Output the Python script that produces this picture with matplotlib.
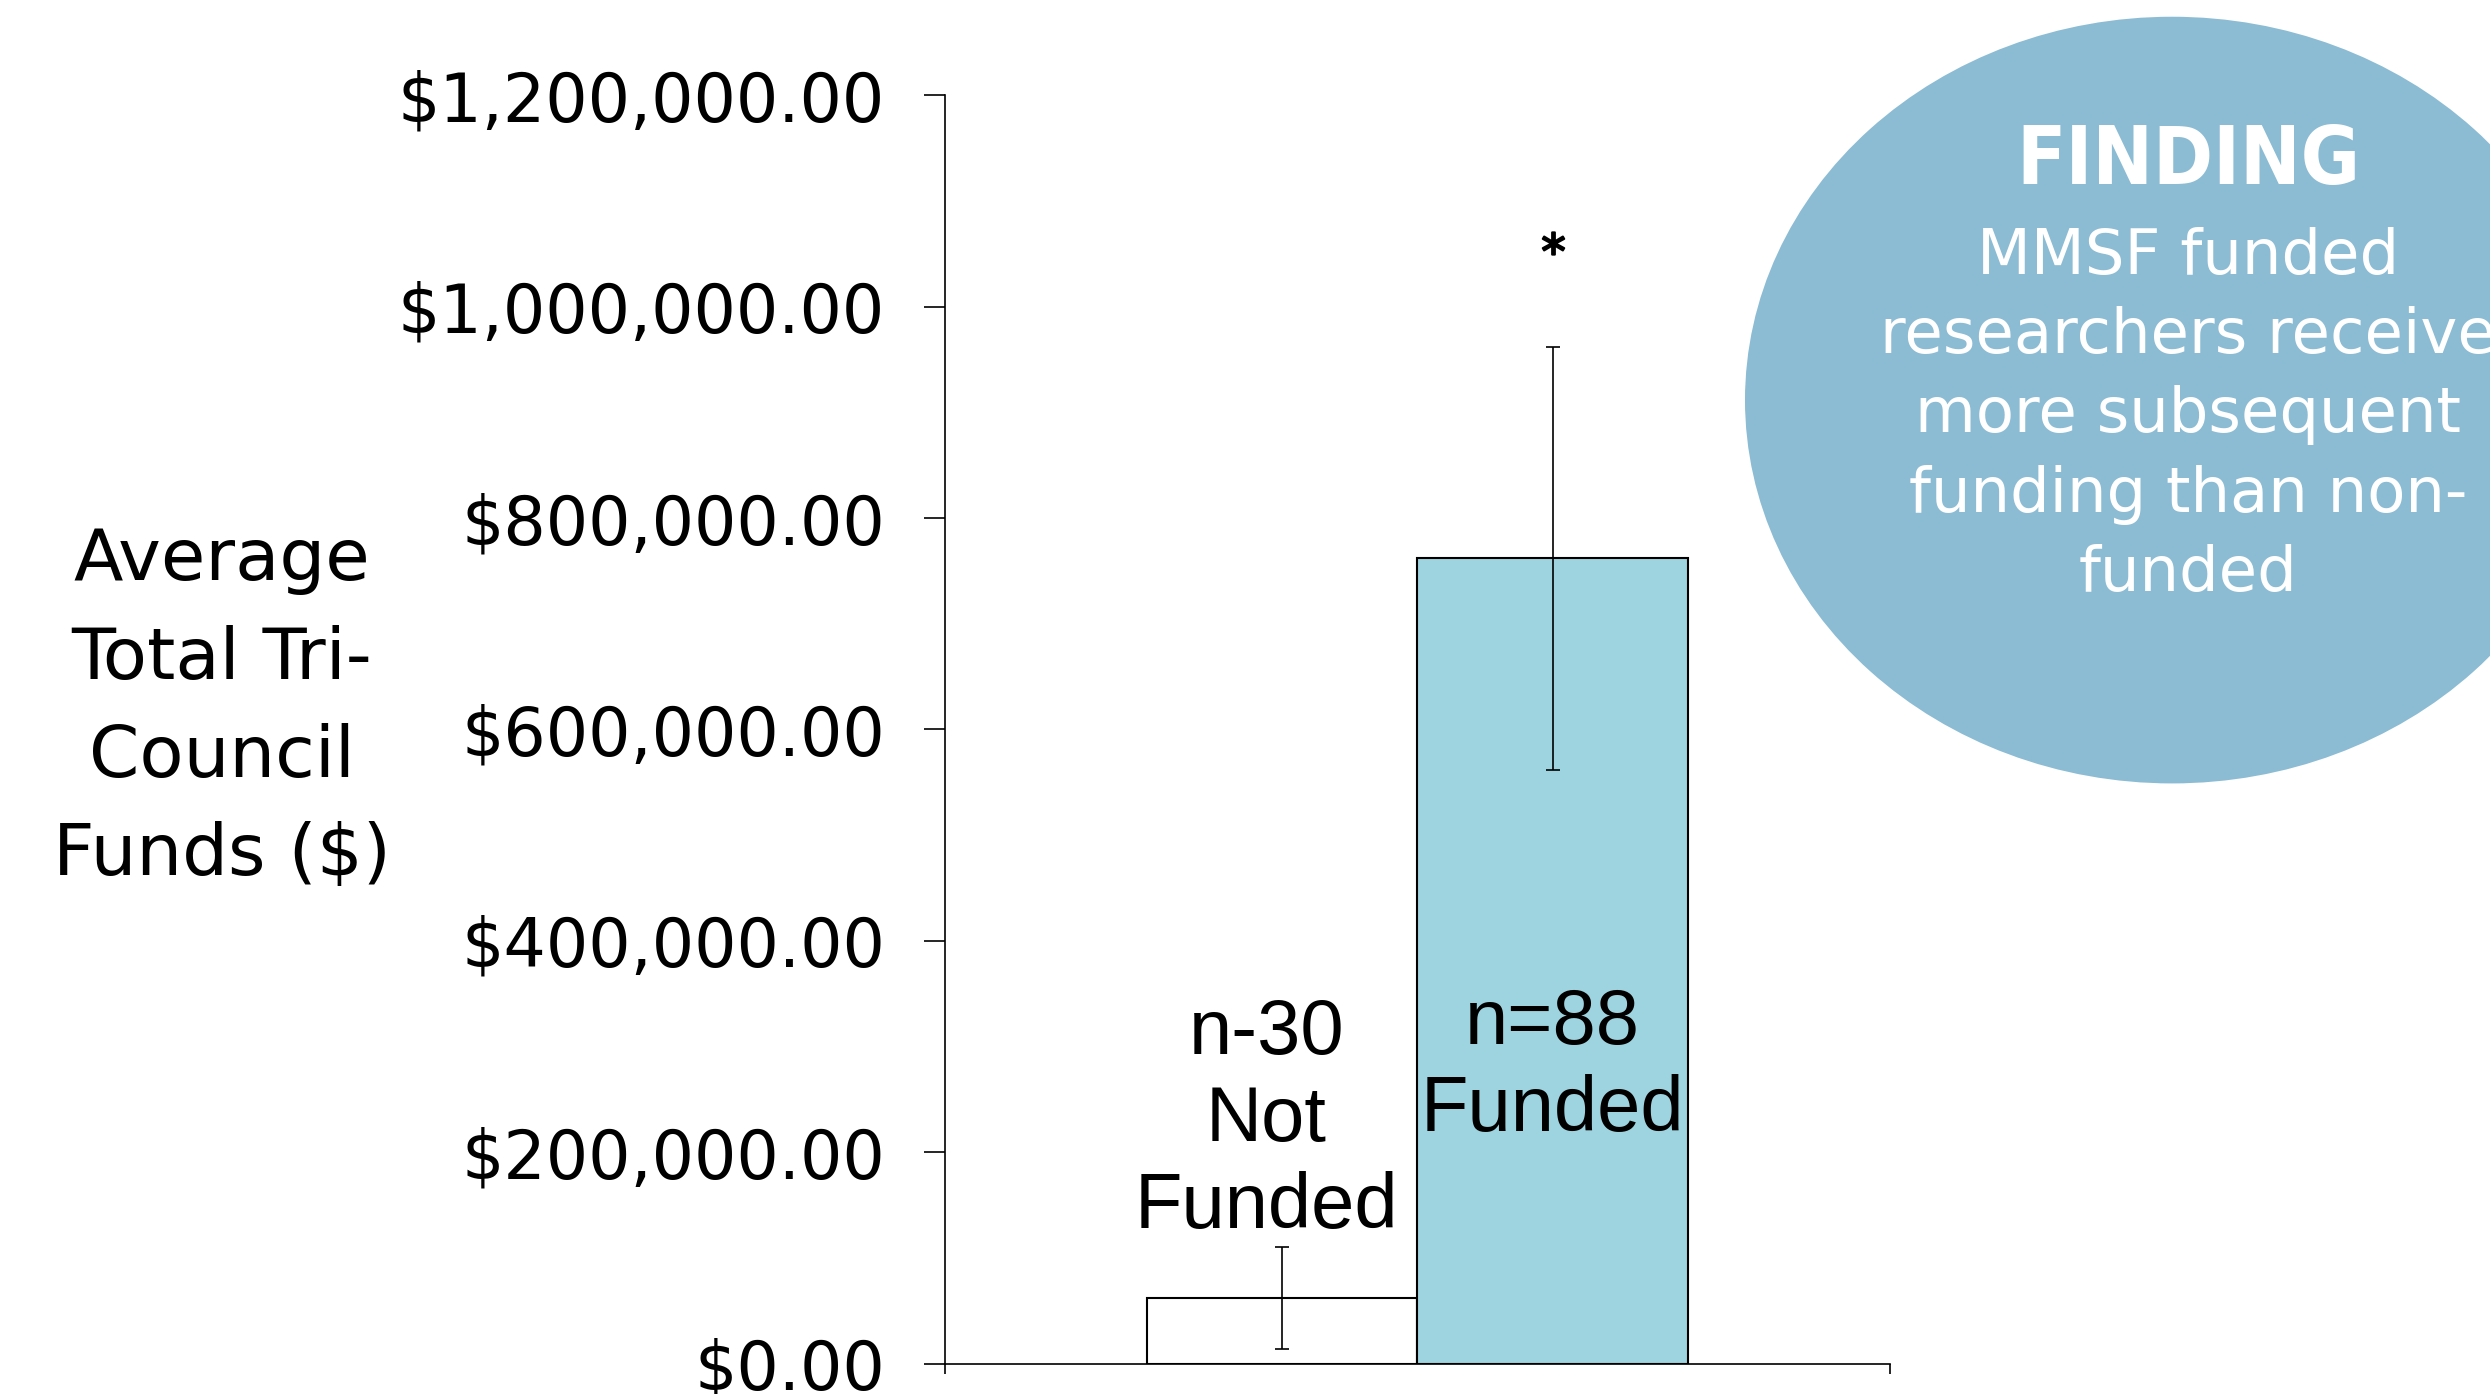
import matplotlib.pyplot as plt
import numpy as np
from matplotlib.patches import Ellipse
from matplotlib.ticker import FuncFormatter

# data
groups = ["Not Funded", "Funded"]
means = [62000, 762000]
errors = [48000, 200000]
bar_labels = ["n-30\nNot\nFunded", "n=88\nFunded"]
label_heights = [230000, 281000]
signif_height = 1060000
yticks = [0, 200000, 400000, 600000, 800000, 1000000, 1200000]

bar_colors = ["white", "#9DD4DF"]
circle_color = "#8BBCD3"

fig = plt.figure(figsize=(24.9, 13.94), dpi=100)
ax = fig.add_axes([0.3795, 0.0217, 0.3795, 0.910])

x = np.array([0.357, 0.643])
ax.bar(x, means, width=0.286, color=bar_colors, edgecolor="black", linewidth=1.5, zorder=2)
ax.errorbar(x, means, yerr=errors, fmt="none", ecolor="black", elinewidth=1.2,
            capsize=4.7, capthick=1.2, zorder=3)

# n labels inside / above the bars
ax.text(x[0] - 0.017, label_heights[0], bar_labels[0], ha="center", va="center",
        fontsize=56, family="Liberation Sans", linespacing=1.25, zorder=4)
ax.text(x[1], label_heights[1], bar_labels[1], ha="center", va="center",
        fontsize=56, family="Liberation Sans", linespacing=1.25, zorder=4)

# significance mark
ax.plot([x[1]], [signif_height], marker="$*$", color="black", markersize=16,
        markeredgewidth=1.5, zorder=4)

ax.set_xlim(0, 1)
ax.set_ylim(0, 1200000)
ax.set_yticks(yticks)
ax.yaxis.set_major_formatter(FuncFormatter(lambda v, p: f"${v:,.2f}"))
ax.set_xticks([0, 1])
ax.set_xticklabels([])
ax.tick_params(axis="y", direction="out", length=15, width=1.2, pad=28, labelsize=48)
ax.tick_params(axis="x", direction="out", length=7, width=1.2)
for s in ["top", "right"]:
    ax.spines[s].set_visible(False)
for s in ["left", "bottom"]:
    ax.spines[s].set_linewidth(1.2)

fig.text(0.0892, 0.492, "Average\nTotal Tri-\nCouncil\nFunds ($)", ha="center", va="center",
         multialignment="center", fontsize=52, linespacing=1.54)

# finding bubble
fig.add_artist(Ellipse((0.8723, 0.713), 0.343, 0.550, transform=fig.transFigure,
                       facecolor=circle_color, edgecolor="none"))
fig.text(0.8788, 0.884, "FINDING", ha="center", va="center", color="white",
         fontsize=58, fontweight="bold", fontstretch="condensed")
fig.text(0.8788, 0.702, "MMSF funded\nresearchers receive\nmore subsequent\nfunding than non-\nfunded",
         ha="center", va="center", multialignment="center", color="white",
         fontsize=45, linespacing=1.41)

plt.savefig("out.png")
